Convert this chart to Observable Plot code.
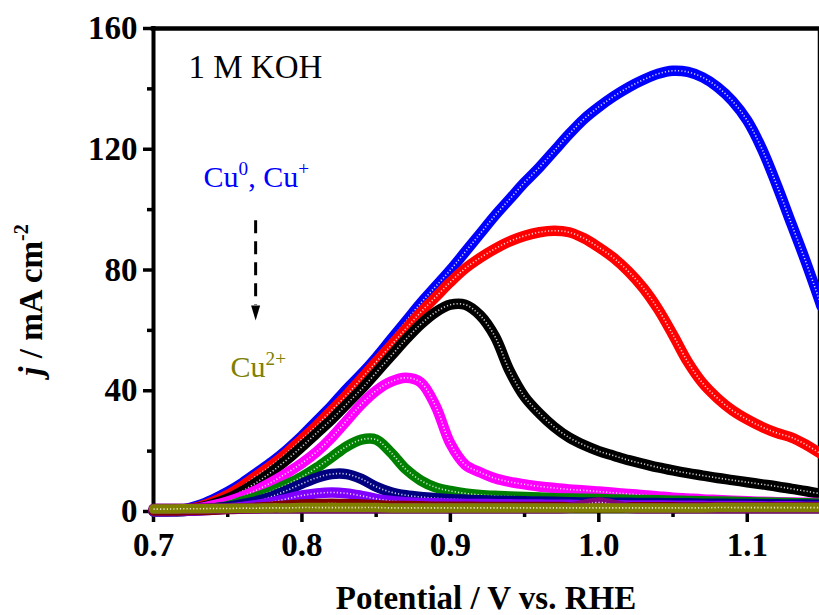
<!DOCTYPE html>
<html><head><meta charset="utf-8">
<script src="https://cdn.jsdelivr.net/npm/d3@7"></script>
<script src="https://cdn.jsdelivr.net/npm/@observablehq/plot@0.6"></script>
<style>html,body{margin:0;padding:0;background:#fff;overflow:hidden}</style>
</head><body><div id="chart"></div>
<script>
// Potential (V vs. RHE)
const potential = [0.70,0.71,0.72,0.73,0.74,0.75,0.76,0.77,0.78,0.79,0.80,0.81,0.82,0.83,0.84,0.85,0.86,0.87,0.88,0.89,0.90,0.91,0.92,0.93,0.94,0.95,0.96,0.97,0.98,0.99,1.00,1.01,1.02,1.03,1.04,1.05,1.06,1.07,1.08,1.09,1.10,1.11,1.12,1.13,1.14,1.15];

// current density j (mA cm-2) per series
const jBlue = [0.3,0.3,0.7,2,4,6.5,9.5,13,16.5,20.5,25,30,35,40.5,45.5,51,57,63,69,74.5,80,86,92,98,103.5,109,114,119.5,125,130,134,137.5,140.5,143,145,146,145.6,143.8,140.6,136,129.5,120,108,95,82,68];
const jRed = [0.2,0.2,0.5,1.5,3.2,5.5,8.5,12,15.5,19.5,24,28.5,33.5,38.5,44,49.5,55,60.5,66,71,76,80.5,84,87,89.5,91.3,92.5,93,92.5,90.5,87.5,84,79.5,74,67,58.5,49.5,42.5,37.5,33.5,30.5,28,26,24.5,22,19];
const jBlack = [0.2,0.2,0.4,1.2,2.5,4.3,6.8,9.8,13.3,17.2,21.5,26,30.5,35.5,40.5,46,51.5,57,62,66,68.5,68.5,65,58,46.5,38,32.5,28,24.5,22,20,18.5,17,15.8,14.6,13.6,12.7,11.9,11.1,10.4,9.7,9,8.3,7.5,6.7,5.8];
const jMagenta = [0.2,0.2,0.4,1,2,3.3,5,7.2,9.8,12.8,16,19.8,24.5,30,35.5,40,43,44.3,42.8,35,22.5,15.5,13,11,9.8,9,8.3,7.8,7.3,7,6.6,6.2,5.8,5.4,5,4.6,4.3,4,3.8,3.6,3.4,3.2,3.1,3,2.9,2.8];
const jGreen = [0.1,0.1,0.2,0.5,1,1.8,3.4,4.9,6.8,9,11.5,14.5,18,21.5,23.8,23.8,19.5,14,10.3,8,6.8,6,5.5,5.2,5,4.8,4.6,4.4,4.3,4.2,4.1,4,3.9,3.8,3.7,3.6,3.5,3.4,3.3,3.2,3.1,3,2.9,2.8,2.7,2.6];
const jNavy = [0.1,0.1,0.2,0.5,1,1.6,2.4,3.5,5,7,9.2,11.2,12.4,12.4,10.8,8.2,6.4,5.4,4.8,4.4,4.1,3.9,3.7,3.6,3.5,3.4,3.3,3.2,3.1,3,3,2.9,2.9,2.8,2.8,2.7,2.7,2.6,2.6,2.5,2.5,2.4,2.4,2.3,2.3,2.2];
const jViolet = [0.1,0.1,0.2,0.3,0.6,1,1.5,2.2,3.1,4.2,5.3,6,6.3,6,5.2,4.2,3.5,3.1,2.8,2.7,2.6,2.5,2.5,2.4,2.4,2.3,2.3,2.2,2.2,2.1,2.1,2.1,2,2,2,1.9,1.9,1.9,1.8,1.8,1.8,1.7,1.7,1.7,1.6,1.6];
const jMaroon = [0.3,0.3,0.4,0.5,0.6,0.8,1,1.3,1.6,2,2.3,2.5,2.6,2.5,2.3,2.1,1.9,1.8,1.7,1.6,1.6,1.6,1.5,1.5,1.5,1.5,1.5,1.5,1.4,1.4,1.4,1.4,1.4,1.4,1.4,1.4,1.3,1.3,1.3,1.3,1.3,1.3,1.3,1.3,1.3,1.3];
const jPurple = [0.9,0.9,0.9,1,1,1,1,1,1.1,1.1,1.1,1.1,1.1,1.1,1.1,1.1,1.1,1.1,1.1,1.1,1.1,1.1,1.1,1.1,1.1,1.1,1.1,1.1,1.2,2.2,3,2.2,1.2,1.1,1.1,1.1,1.1,1.1,1.1,1.1,1.1,1.1,1.1,1.1,1.1,1.1];
const jOlive = [0.8,0.8,0.9,0.9,1,1,1.1,1.1,1.2,1.2,1.3,1.3,1.3,1.3,1.3,1.3,1.2,1.2,1.2,1.2,1.2,1.2,1.2,1.2,1.2,1.2,1.2,1.2,1.2,1.2,1.2,1.2,1.2,1.2,1.2,1.2,1.2,1.2,1.3,1.3,1.3,1.3,1.3,1.3,1.3,1.3];

const seriesValues = [jBlue, jRed, jBlack, jMagenta, jGreen, jNavy, jViolet, jMaroon, jPurple, jOlive];
const seriesColors = ["#0000ff","#ff0000","#000000","#ff00ff","#008000","#000080","#8000ff","#800000","#800080","#808000"];

const xDomain = [0.7, 1.148];
const yDomain = [0, 160];
const xTicksMajor = [0.7, 0.8, 0.9, 1.0, 1.1];
const xTicksMinor = [0.75, 0.85, 0.95, 1.05];
const yTicksMajor = [0, 40, 80, 120, 160];
const yTicksMinor = [20, 60, 100, 140];

const annotations = [
  {x: 0.7236, y: 143.5, text: "1 M KOH", color: "#000000", size: 33},
  {x: 0.7337, y: 107.4, text: "Cu^{0}, Cu^{+}", color: "#0000ff", size: 30},
  {x: 0.7519, y: 44.4, text: "Cu^{2+}", color: "#808000", size: 30}
];
const arrow = [{x: 0.7688, top: 96.5, bottom: 68.5, tip: 63.3}];

const FONT = "'Liberation Serif', 'Times New Roman', Times, serif";
const ANN_FS = 30;

const arrowHead = {draw(ctx) { ctx.moveTo(0, 0); ctx.lineTo(-4.5, -15); ctx.lineTo(4.5, -15); ctx.closePath(); }};

const marks = [
  Plot.ruleY([yDomain[0]], {strokeWidth: 4, strokeLinecap: "square"}),
  Plot.ruleY([yDomain[1]], {strokeWidth: 4.5, strokeLinecap: "square"}),
  Plot.ruleX([xDomain[0]], {strokeWidth: 4, strokeLinecap: "square"}),
  Plot.ruleX([xDomain[1]], {strokeWidth: 1.5}),
  Plot.axisX(xTicksMajor, {tickSize: 11, tickPadding: 10, strokeWidth: 3.5, tickFormat: d => d.toFixed(1), label: null}),
  Plot.axisX(xTicksMinor, {tickSize: 6, strokeWidth: 3.5, tickFormat: () => "", label: null}),
  Plot.axisY(yTicksMajor, {tickSize: 10, tickPadding: 6, strokeWidth: 3.5, tickFormat: d => String(d), label: null}),
  Plot.axisY(yTicksMinor, {tickSize: 6, strokeWidth: 3.5, tickFormat: () => "", label: null})
];
seriesValues.forEach((vals, i) => {
  const rows = potential.map((p, k) => ({p, j: vals[k]}));
  const w = seriesColors[i] === "#808000" ? 9.5 : 10.5;
  marks.push(Plot.line(rows, {x: "p", y: "j", stroke: seriesColors[i], strokeWidth: w, curve: "catmull-rom"}));
  marks.push(Plot.line(rows, {x: "p", y: "j", stroke: "white", strokeWidth: 1.6, strokeDasharray: "1.2,2.1", strokeLinecap: "butt", strokeOpacity: 0.8, curve: "catmull-rom"}));
});

marks.push(
  Plot.text(annotations, {x: "x", y: "y", text: "text", fill: "color", fontSize: "size", textAnchor: "start", lineAnchor: "bottom", fontWeight: "normal"}),
  Plot.link(arrow, {x1: "x", x2: "x", y1: "top", y2: "bottom", stroke: "black", strokeWidth: 3, strokeDasharray: "13,8"}),
  Plot.dot(arrow, {x: "x", y: "tip", symbol: arrowHead, fill: "black", stroke: "none"})
);

const plot = Plot.plot({
  width: 819,
  height: 615,
  marginLeft: 153,
  marginRight: 1,
  marginTop: 28,
  marginBottom: 104,
  x: {domain: xDomain, label: null},
  y: {domain: yDomain, label: null},
  style: {fontFamily: FONT, fontSize: "33px", fontWeight: "bold", background: "#fff", color: "#000", overflow: "hidden"},
  marks
});

// superscripts in annotation texts
d3.select(plot).selectAll("text").each(function () {
  const s = this.textContent;
  if (!s.includes("^{")) return;
  const parts = s.split(/(\^\{[^}]*\})/).filter(Boolean);
  this.textContent = "";
  let shifted = false;
  for (const part of parts) {
    const m = part.match(/^\^\{(.*)\}$/);
    const t = d3.select(this).append("tspan");
    if (m) {
      t.text(m[1]).attr("font-size", ANN_FS * 0.64);
      if (!shifted) t.attr("dy", -ANN_FS * 0.42);
      shifted = true;
    } else {
      t.text(part);
      if (shifted) { t.attr("dy", ANN_FS * 0.42); shifted = false; }
    }
  }
});

const svg = d3.select(plot);
// x-axis title
svg.append("text")
  .attr("x", 486).attr("y", 609)
  .attr("text-anchor", "middle")
  .attr("font-family", FONT).attr("font-weight", "bold").attr("font-size", 33)
  .text("Potential / V vs. RHE");
// y-axis title
const yt = svg.append("text")
  .attr("transform", "translate(42,300) rotate(-90)")
  .attr("text-anchor", "middle")
  .attr("font-family", FONT).attr("font-weight", "bold").attr("font-size", 33);
yt.append("tspan").attr("font-style", "italic").text("j");
yt.append("tspan").text(" / mA cm");
yt.append("tspan").attr("font-size", 20).attr("dy", -14).text("-2");

document.getElementById("chart").appendChild(plot);
</script>
</body></html>
